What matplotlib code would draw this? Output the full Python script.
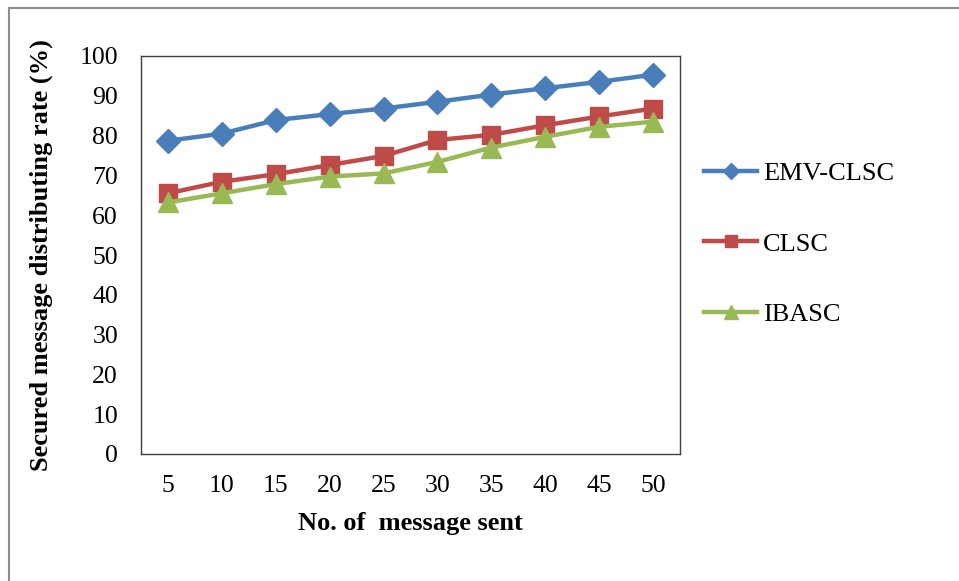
import matplotlib.pyplot as plt
from matplotlib.patches import Rectangle

# -------- DATA --------
messages = [5, 10, 15, 20, 25, 30, 35, 40, 45, 50]
emv_clsc = [78.7, 80.5, 83.9, 85.4, 86.8, 88.5, 90.3, 91.9, 93.5, 95.3]
clsc = [65.5, 68.4, 70.3, 72.6, 74.9, 78.9, 80.2, 82.6, 84.8, 86.8]
ibasc = [63.2, 65.5, 67.8, 69.7, 70.5, 73.4, 77.0, 79.7, 82.2, 83.5]

plt.rcParams['font.family'] = ['Liberation Serif', 'DejaVu Serif']

fig = plt.figure(figsize=(9.59, 5.81), dpi=100)
ax = fig.add_axes([141/959, 1 - 454/581, (680-141)/959, (454-56)/581])

# outer chart border
fig.patches.append(Rectangle((9/959, -0.1), 1.2, 1 - 8/581 + 0.1,
                             transform=fig.transFigure, fill=False,
                             edgecolor='#8c8c8c', linewidth=1.5))

ax.plot(messages, emv_clsc, color='#4a7ebb', linewidth=3.2, marker='D',
        markersize=12, label='EMV-CLSC')
ax.plot(messages, clsc, color='#be4b48', linewidth=3.2, marker='s',
        markersize=13, label='CLSC')
ax.plot(messages, ibasc, color='#98b954', linewidth=3.2, marker='^',
        markersize=14, label='IBASC')

ax.set_xlim(2.5, 52.5)
ax.set_ylim(0, 100)
ax.set_xticks(messages)
ax.set_yticks(range(0, 101, 10))
ax.tick_params(axis='both', length=0, labelsize=18.5)
ax.tick_params(axis='x', pad=15)
ax.tick_params(axis='y', pad=16.5)

for s in ax.spines.values():
    s.set_color('#404040')
    s.set_linewidth(1.0)

ax.set_xlabel('No. of  message sent', fontsize=19, fontweight='bold', labelpad=11)
ax.set_ylabel('Secured message distributing rate (%)', fontsize=19,
              fontweight='bold', labelpad=19)

leg = ax.legend(loc='upper left', bbox_to_anchor=(1.001, 0.794), frameon=False,
                fontsize=19, handlelength=2.0, handletextpad=0.23,
                labelspacing=1.78, markerscale=0.7)

fig.savefig('out.png', dpi=100)
